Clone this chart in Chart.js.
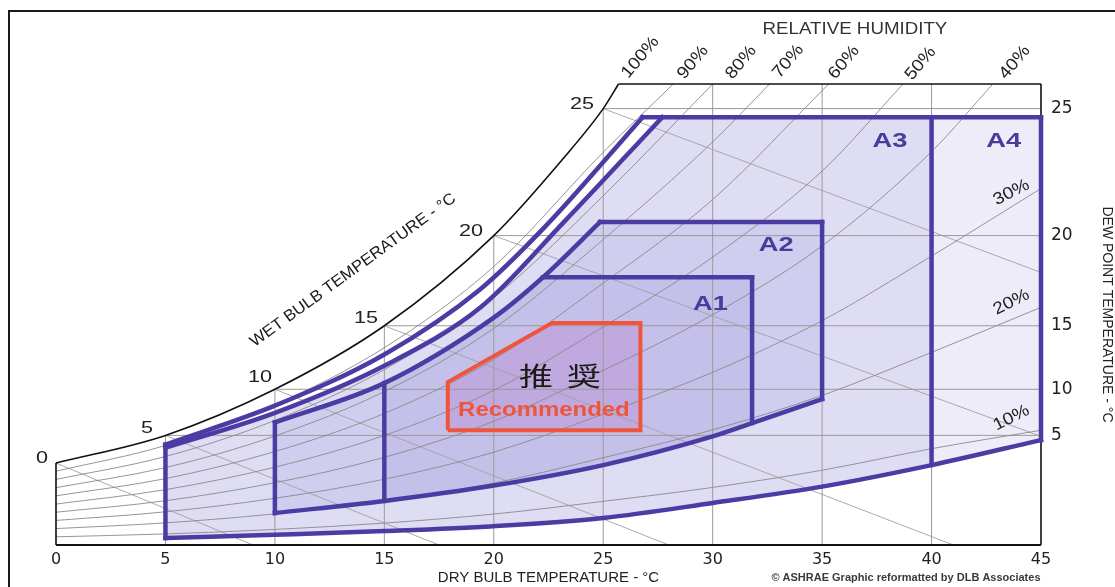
<!DOCTYPE html>
<html>
<head>
<meta charset="utf-8">
<script src="https://cdn.jsdelivr.net/npm/chart.js@4.4.1/dist/chart.umd.min.js"></script>
<style>
  html, body { margin: 0; padding: 0; background: #fff; }
  #wrap { position: relative; width: 1115px; height: 587px; overflow: hidden; }
  #frame { position: absolute; left: 8px; top: 10px; width: 1200px; height: 700px;
           border-left: 2px solid #1a1a1a; border-top: 2px solid #1a1a1a; }
  #psychro { position: absolute; left: 0; top: 0; }
</style>
</head>
<body>
<div id="wrap"><div id="frame"></div><canvas id="psychro" width="1115" height="587"></canvas></div>
<script>
// x = dry bulb (°C), y = humidity ratio (g/kg)
const dryBulbMax = 45;
const chartTopW = 22.5;

// dew point axis (right): tick labels and where they sit on the humidity scale
const dewPointTicks = [5, 10, 15, 20, 25];
const dewPointW = [5.35, 7.6, 10.7, 15.1, 21.3];

// saturation (100%) curve
const satT = [0, 5, 10, 15, 20, 23.2, 25, 25.7];
const satW = [4.0, 5.35, 7.6, 10.7, 15.1, 18.9, 21.3, 22.5];

// vertical dry bulb grid lines, up to the saturation curve / top
const gridT = [5, 10, 15, 20, 25, 30, 35, 40];
const gridTopW = [5.35, 7.6, 10.7, 15.1, 21.3, 22.5, 22.5, 22.5];

// relative humidity curves 90% .. 10%
const rhT = [0, 5, 10, 15, 20, 25, 30, 35, 40, 45];
const rh90W = [3.6, 4.86, 6.84, 9.63, 13.59, 19.17];
const rh80W = [3.2, 4.32, 6.08, 8.56, 12.08, 17.04];
const rh70W = [2.8, 3.78, 5.32, 7.49, 10.57, 14.91, 19.67];
const rh60W = [2.4, 3.24, 4.56, 6.42, 9.06, 12.78, 16.86];
const rh50W = [2.0, 2.7, 3.8, 5.35, 7.55, 10.65, 14.05, 18.25];
const rh40W = [1.6, 2.16, 3.04, 4.28, 6.04, 8.52, 11.24, 14.6, 19.2];
const rh30W = [1.2, 1.62, 2.28, 3.21, 4.53, 6.39, 8.43, 10.95, 14.1, 17.4];
const rh20W = [0.8, 1.08, 1.52, 2.14, 3.02, 4.26, 5.62, 7.3, 9.4, 11.6];
const rh10W = [0.4, 0.54, 0.76, 1.07, 1.51, 2.13, 2.81, 3.65, 4.7, 5.6];
const rhTopT = [28.2, 30, 32.6, 35.3, 38.7, 42.8, null, null, null];

// wet bulb lines (start on saturation, run down to the right)
const wbStartT = [0, 5, 10, 15, 20, 25];
const wbStartW = [4.0, 5.35, 7.6, 10.7, 15.1, 21.3];
const wbEndT = [9, 17.5, 28, 41, 45, 45];
const wbEndW = [0, 0, 0, 0, 5.3, 13.3];

// ASHRAE envelopes
const outerT = [5, 10, 15, 19.4, 22.4, 26.8];        // A4 upper edge
const outerW = [4.9, 6.8, 9.3, 12.5, 15.6, 20.88];
const innerT = [5, 10, 15, 19.4, 23.2, 27.7];        // A3 upper edge
const innerW = [4.75, 6.45, 8.75, 11.6, 15.76, 20.88];
const thirdT = [10, 15, 20, 22.25, 24.85];           // A1 / A2 upper edge
const thirdW = [5.98, 7.9, 11.1, 13.07, 15.76];
const bottomA34T = [5, 10, 15, 20, 25, 30, 35, 40, 45];
const bottomA34W = [0.34, 0.5, 0.68, 0.92, 1.32, 2.05, 2.85, 3.9, 5.12];
const bottomA12T = [10, 15, 20, 25, 30, 31.8, 35];
const bottomA12W = [1.56, 2.15, 2.9, 3.9, 5.3, 5.95, 7.12];
const classRightT = [31.8, 35, 40, 45];
const classTopW = [13.07, 15.76, 20.88, 20.88];

// recommended envelope
const recT = [17.9, 17.9, 22.66, 26.7, 26.7, 17.9];
const recW = [5.6, 7.95, 10.83, 10.83, 5.6, 5.6];

// text labels
const classLabels = ['A1', 'A2', 'A3', 'A4'];
const classLabelT = [29.9, 32.9, 38.1, 43.3];
const classLabelW = [11.76, 14.63, 19.7, 19.7];
const wbLabels = ['0', '5', '10', '15', '20', '25'];
const wbLabelT = [-0.64, 4.16, 9.32, 14.16, 18.96, 24.03];
const wbLabelW = [4.2, 5.66, 8.15, 11.07, 15.3, 21.5];
const rhTopLabels = ['100%', '90%', '80%', '70%', '60%', '50%', '40%'];
const rhTopLabelT = [26.7, 29.1, 31.3, 33.45, 36.0, 39.5, 43.8];
const rhTopLabelW = [23.8, 23.55, 23.55, 23.6, 23.55, 23.5, 23.55];
const rhSideLabels = ['30%', '20%', '10%'];
const rhSideLabelT = [43.65, 43.65, 43.65];
const rhSideLabelW = [17.2, 11.85, 6.2];

const purple = '#4b3ca4';
const red = '#f0553c';
const curve = { cubicInterpolationMode: 'monotone' };

const pts = (ts, ws) => ts.map((t, i) => ({ x: t, y: ws[i] }));
const datasets = [];
function addLine(data, style) {
  datasets.push(Object.assign({
    data: data, borderColor: '#9a9a9a', borderWidth: 1, pointRadius: 0,
    fill: false, tension: 0, clip: false, order: 50
  }, style));
  return datasets.length - 1;
}

// grid
gridT.forEach((t, i) => addLine(pts([t, t], [0, gridTopW[i]]), { order: 60 }));
dewPointTicks.forEach((d, i) => addLine(pts([d, dryBulbMax], [dewPointW[i], dewPointW[i]]), { order: 60 }));
[rh90W, rh80W, rh70W, rh60W, rh50W, rh40W, rh30W, rh20W, rh10W].forEach((ws, i) => {
  const ts = rhT.slice(0, ws.length);
  const w2 = ws.slice();
  if (rhTopT[i] !== null) { ts.push(rhTopT[i]); w2.push(chartTopW); }
  addLine(pts(ts, w2), Object.assign({ borderColor: '#8a8a8a', borderWidth: 0.9, order: 55 }, curve));
});
wbStartT.forEach((t, i) => addLine(pts([t, wbEndT[i]], [wbStartW[i], wbEndW[i]]),
  { borderColor: '#a0a0a0', borderWidth: 0.9, order: 55 }));

// black frame
const black = { borderColor: '#111', borderWidth: 1.6, order: 20 };
addLine(pts([0, 0], [0, satW[0]]), black);
addLine(pts(satT, satW), Object.assign({}, black, curve));
addLine(pts([satT[satT.length - 1], dryBulbMax], [chartTopW, chartTopW]), black);
addLine(pts([dryBulbMax, dryBulbMax], [chartTopW, 0]), black);
addLine(pts([0, dryBulbMax], [0, 0]), Object.assign({}, black, { borderWidth: 2.2 }));

// envelope strokes
const env = { borderColor: purple, borderWidth: 4.5, order: 10, borderCapStyle: 'square' };
const bottomA34 = addLine(pts(bottomA34T, bottomA34W), Object.assign({}, env, curve));
const bottomA12 = addLine(pts(bottomA12T, bottomA12W), Object.assign({}, env, curve));
addLine(pts(outerT, outerW), Object.assign({}, env, curve));
addLine(pts(innerT, innerW), Object.assign({}, env, curve));
addLine(pts(thirdT, thirdW), Object.assign({}, env, curve));
addLine(pts([outerT[outerT.length - 1], classRightT[3]], [classTopW[3], classTopW[3]]), env);
addLine(pts([thirdT[4], classRightT[1]], [classTopW[1], classTopW[1]]), env);
addLine(pts([thirdT[3], classRightT[0]], [classTopW[0], classTopW[0]]), env);
addLine(pts([5, 5], [bottomA34W[0], outerW[0]]), env);
addLine(pts([10, 10], [bottomA12W[0], thirdW[0]]), env);
addLine(pts([15, 15], [bottomA12W[1], thirdW[1]]), env);
addLine(pts([classRightT[0], classRightT[0]], [bottomA12W[5], classTopW[0]]), env);
addLine(pts([classRightT[1], classRightT[1]], [bottomA12W[6], classTopW[1]]), env);
addLine(pts([classRightT[2], classRightT[2]], [bottomA34W[7], classTopW[2]]), env);
addLine(pts([classRightT[3], classRightT[3]], [bottomA34W[8], classTopW[3]]), env);

// recommended
const recBase = addLine(pts([recT[0], recT[3]], [recW[0], recW[0]]), { borderWidth: 0, order: 90 });
addLine(pts(recT, recW), { borderColor: red, borderWidth: 4, order: 5, borderJoinStyle: 'miter' });

// fills (light lavender layers)
const fillSet = (ts, ws, target, color) => addLine(pts(ts, ws),
  { borderWidth: 0, order: 100, fill: { target: target, above: color, below: color } });
fillSet([classRightT[2], classRightT[3]], [classTopW[3], classTopW[3]], bottomA34, 'rgba(110,100,200,0.12)');
fillSet(innerT.concat([classRightT[2]]), innerW.concat([classTopW[2]]), bottomA34, 'rgba(110,100,200,0.22)');
fillSet(thirdT.concat([classRightT[1]]), thirdW.concat([classTopW[1]]), bottomA12, 'rgba(110,100,200,0.13)');
fillSet(thirdT.slice(1, 4).concat([classRightT[0]]), thirdW.slice(1, 4).concat([classTopW[0]]), bottomA12, 'rgba(110,100,200,0.13)');
fillSet(recT.slice(1, 4), recW.slice(1, 4), recBase, 'rgba(235,120,190,0.28)');

const textPlugin = {
  id: 'chartText',
  afterDraw(chart) {
    const { ctx } = chart;
    const xs = chart.scales.x, ys = chart.scales.y;
    const put = (txt, t, w, font, color, rot, sx) => {
      ctx.save();
      ctx.translate(xs.getPixelForValue(t), ys.getPixelForValue(w));
      if (rot) ctx.rotate(rot * Math.PI / 180);
      ctx.scale(sx || 1, 1);
      ctx.font = font;
      ctx.fillStyle = color;
      ctx.textAlign = 'center';
      ctx.textBaseline = 'middle';
      ctx.fillText(txt, 0, 0);
      ctx.restore();
    };
    classLabels.forEach((s, i) => put(s, classLabelT[i], classLabelW[i], 'bold 21px "Liberation Sans"', '#4a3c9c', 0, 1.3));
    wbLabels.forEach((s, i) => put(s, wbLabelT[i], wbLabelW[i], '16px "Liberation Sans"', '#222', 0, 1.35));
    rhTopLabels.forEach((s, i) => put(s, rhTopLabelT[i], rhTopLabelW[i], '17px "Liberation Sans"', '#222', -50, 1.12));
    rhSideLabels.forEach((s, i) => put(s, rhSideLabelT[i], rhSideLabelW[i], '17px "Liberation Sans"', '#222', -27, 1.12));
    put('WET BULB TEMPERATURE - °C', 13.57, 13.41, '16px "Liberation Sans"', '#1a1a1a', -36, 1.05);
    put('RELATIVE HUMIDITY', 36.5, 25.17, '16px "Liberation Sans"', '#333', 0, 1.17);
    put('推', 21.93, 8.24, '26px "Noto Sans CJK JP"', '#1a1a1a', 0, 1.3);
    put('奨', 24.12, 8.24, '26px "Noto Sans CJK JP"', '#1a1a1a', 0, 1.3);
    put('Recommended', 22.29, 6.56, 'bold 21px "Liberation Sans"', red, 0, 1.14);
    put('© ASHRAE Graphic reformatted by DLB Associates', 38.83, -1.61, 'bold 11px "Liberation Sans"', '#3a3a3a', 0, 1);
  }
};

new Chart(document.getElementById('psychro'), {
  type: 'line',
  data: { datasets: datasets },
  options: {
    responsive: false,
    animation: false,
    events: [],
    layout: { padding: { left: 56, top: 84, right: 0, bottom: 0 } },
    plugins: { legend: { display: false }, tooltip: { enabled: false } },
    scales: {
      x: {
        type: 'linear', min: 0, max: dryBulbMax,
        grid: { display: false, drawTicks: false }, border: { display: false },
        ticks: { stepSize: 5, autoSkip: false, maxRotation: 0, padding: 5, color: '#222',
                 font: { family: 'DejaVu Sans', size: 16 } },
        title: { display: true, text: 'DRY BULB TEMPERATURE - °C', color: '#222',
                 font: { family: 'Liberation Sans', size: 15 }, padding: { top: 0, bottom: 0 } },
        afterFit: (s) => { s.height = 42; }
      },
      y: {
        type: 'linear', position: 'right', min: 0, max: chartTopW,
        grid: { display: false, drawTicks: false }, border: { display: false },
        afterBuildTicks: (s) => { s.ticks = dewPointW.map(v => ({ value: v })); },
        ticks: { autoSkip: false, padding: 10, color: '#222', font: { family: 'DejaVu Sans', size: 17 },
                 callback: (v, i) => dewPointTicks[i] },
        title: { display: true, text: 'DEW POINT TEMPERATURE - °C', color: '#222',
                 font: { family: 'Liberation Sans', size: 14 }, padding: { top: 0, bottom: 4 } },
        afterFit: (s) => { s.width = 74; }
      }
    }
  },
  plugins: [textPlugin]
});
</script>
</body>
</html>
